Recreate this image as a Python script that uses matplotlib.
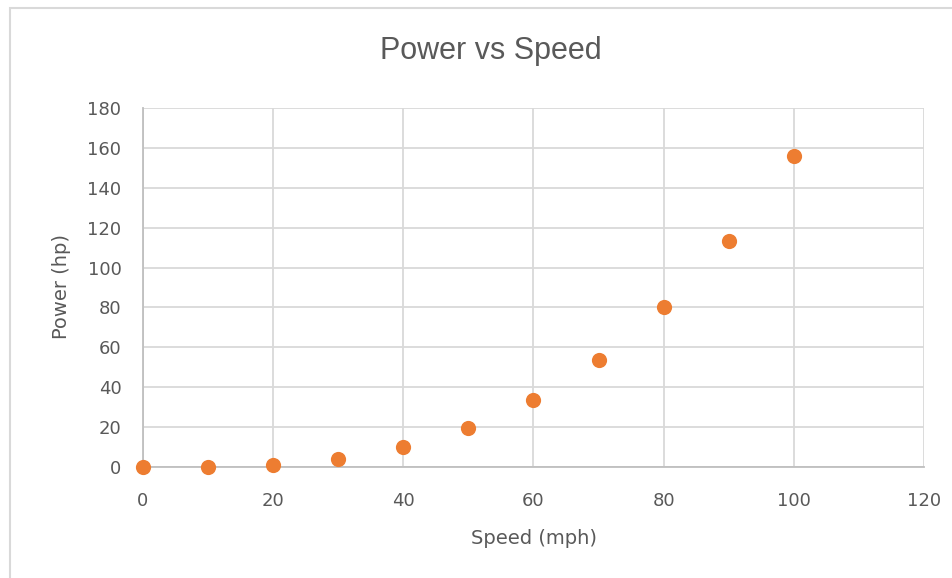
import matplotlib
matplotlib.use('Agg')
import matplotlib.pyplot as plt
from matplotlib.patches import Rectangle

# data
speed_mph = [0, 10, 20, 30, 40, 50, 60, 70, 80, 90, 100]
power_hp = [0.0, 0.2, 1.2, 4.2, 10.0, 19.5, 33.7, 53.5, 80.0, 113.5, 156.0]
x_ticks = [0, 20, 40, 60, 80, 100, 120]
y_ticks = [0, 20, 40, 60, 80, 100, 120, 140, 160, 180]

text_col = '#595959'
grid_col = '#d9d9d9'
dot_col = '#ED7D31'

plt.rcParams['font.family'] = ['DejaVu Sans']

W, H = 953, 578
fig = plt.figure(figsize=(W / 100, H / 100), dpi=100)
ax = fig.add_axes([143 / W, 1 - 467 / H, (924 - 143) / W, (467 - 108) / H])

ax.scatter(speed_mph, power_hp, s=120, color=dot_col, zorder=3, clip_on=False,
           linewidths=0)

ax.set_xlim(0, 120)
ax.set_ylim(0, 180)
ax.set_xticks(x_ticks)
ax.set_yticks(y_ticks)
ax.grid(True, color=grid_col, linewidth=1.3)
ax.set_axisbelow(True)
ax.tick_params(length=0, labelsize=13, labelcolor=text_col)
ax.tick_params(axis='x', pad=18)
ax.tick_params(axis='y', pad=15.5)

for side in ['top', 'right']:
    ax.spines[side].set_visible(False)
for side in ['left', 'bottom']:
    ax.spines[side].set_color('#bfbfbf')
    ax.spines[side].set_linewidth(1.3)

# axis titles placed where they sit in the reference
fig.text(534 / W, 1 - 538 / H, 'Speed (mph)', ha='center', va='center',
         fontsize=14, color=text_col)
fig.text(62 / W, 1 - 287 / H, 'Power (hp)', ha='center', va='center',
         rotation=90, fontsize=14, color=text_col)

fig.text(491 / W, 1 - 51 / H, 'Power vs Speed', ha='center', va='center',
         fontsize=22, color=text_col, family='Liberation Sans')

# chart area border (left and top edges visible in the crop)
fig.patches.append(Rectangle((10 / W, -0.05), 1.2, 1 - 8 / H + 0.05,
                             transform=fig.transFigure, fill=False,
                             edgecolor='#d9d9d9', linewidth=1.5))

fig.savefig('out.png', dpi=100, facecolor='white')
